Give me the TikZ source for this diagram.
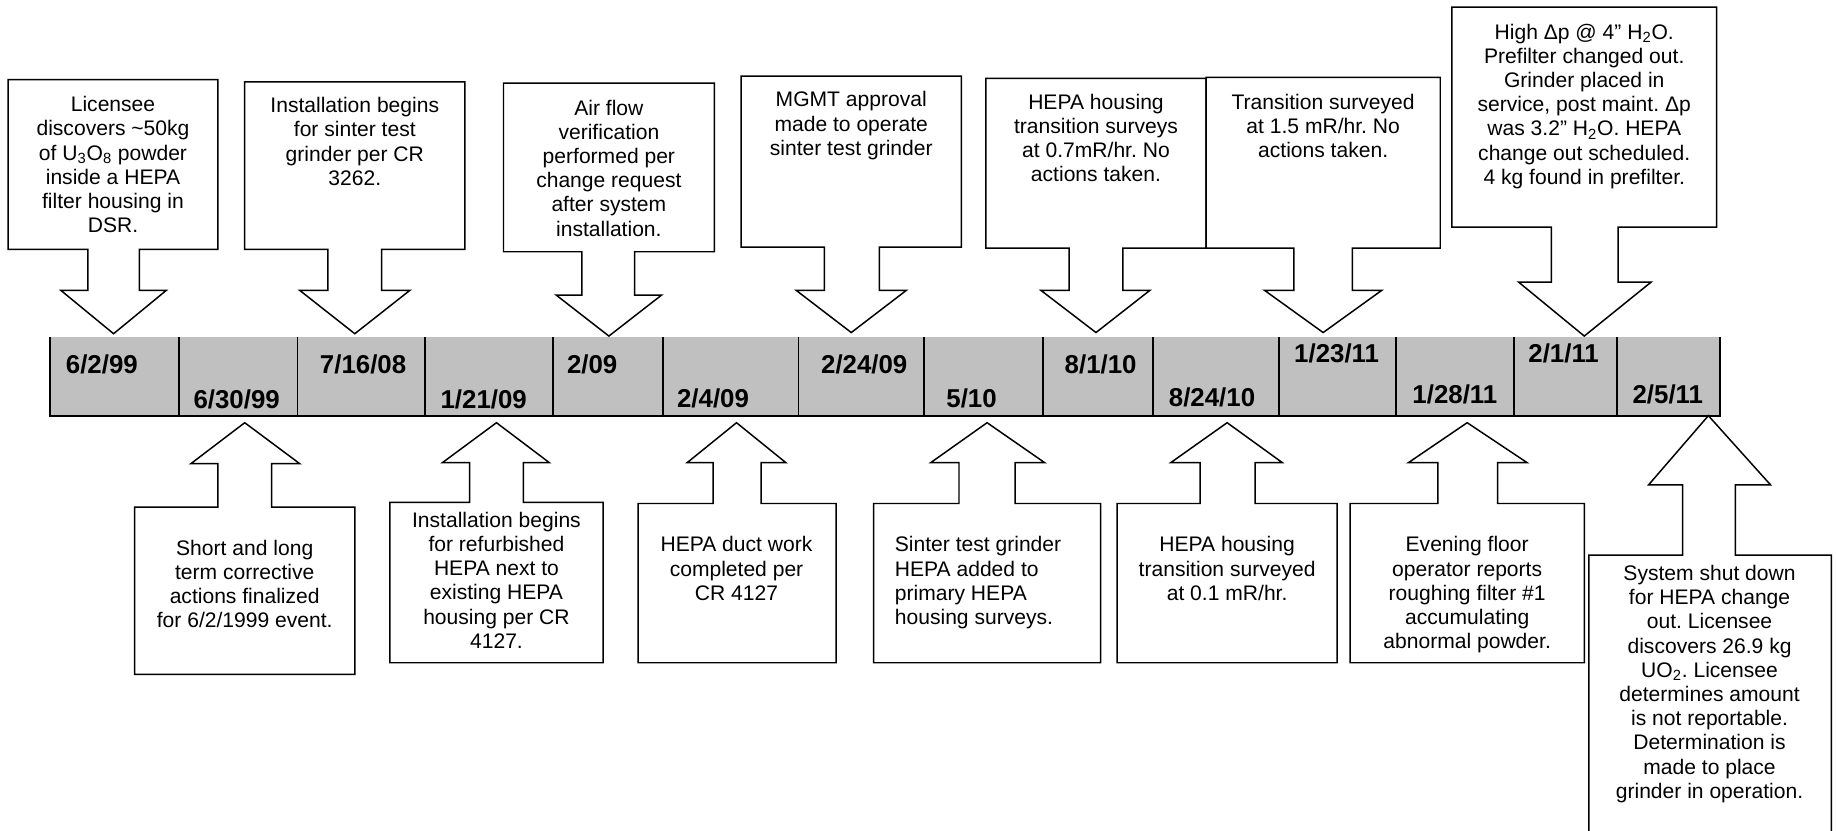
\documentclass[tikz,border=0pt]{standalone}
\usepackage{fontspec}
\setmainfont{Liberation Sans}
\usepackage{tikz}
\usepackage{xcolor}

\definecolor{barfill}{RGB}{192,192,192}
\frenchspacing

\begin{document}
\begin{tikzpicture}[x=0.25mm, y=-0.25mm,
    every node/.style={inner sep=0pt},
    note/.style={font=\fontsize{12.8}{14.7}\selectfont, align=center, anchor=north},
    datelbl/.style={font=\fontsize{15.7}{18}\selectfont\bfseries, anchor=base west},
    callout/.style={draw, fill=white, line width=0.9pt, line join=miter}]
    % page frame
    \clip (0,0) rectangle (1568,709);
    \fill[white] (0,0) rectangle (1568,709);

    % time line bar
    \fill[barfill] (43,288) rectangle (1469,355);
    \draw[line width=1.2pt] (43,288) -- (43,355) -- (1469,355) -- (1469,288);
    \foreach \x in {153,254,363,472,566,682,789,891,985,1092,1192,1293,1381}
        \draw[line width=1.1pt] (\x,288) -- (\x,355);

    % dates
    \node[datelbl] (d1) at (56,319) {6/2/99};
    \node[datelbl] (d2) at (165,348.5) {6/30/99};
    \node[datelbl] (d3) at (273,319) {7/16/08};
    \node[datelbl] (d4) at (376,348.5) {1/21/09};
    \node[datelbl] (d5) at (484,319) {2/09};
    \node[datelbl] (d6) at (578,348) {2/4/09};
    \node[datelbl] (d7) at (701,319) {2/24/09};
    \node[datelbl] (d8) at (808,348) {5/10};
    \node[datelbl] (d9) at (909,319) {8/1/10};
    \node[datelbl] (d10) at (998,347) {8/24/10};
    \node[datelbl] (d11) at (1105,310) {1/23/11};
    \node[datelbl] (d12) at (1206,345) {1/28/11};
    \node[datelbl] (d13) at (1305,310) {2/1/11};
    \node[datelbl] (d14) at (1394,345) {2/5/11};

    % callouts above the bar
    \draw[callout] (7,213) -- (7,68) -- (186,68) -- (186,213) -- (119,213) -- (119,248) -- (142,248) -- (97,285) -- (52,248) -- (75,248) -- (75,213) -- cycle;
    \draw[callout] (209,213) -- (209,70) -- (397,70) -- (397,213) -- (326,213) -- (326,248) -- (350,248) -- (303,285) -- (256,248) -- (280,248) -- (280,213) -- cycle;
    \draw[callout] (430,215) -- (430,71) -- (610,71) -- (610,215) -- (542,215) -- (542,252) -- (565,252) -- (520,287) -- (475,252) -- (497,252) -- (497,215) -- cycle;
    \draw[callout] (633,211) -- (633,65) -- (821,65) -- (821,211) -- (751,211) -- (751,248) -- (774,248) -- (727,284) -- (680,248) -- (704,248) -- (704,211) -- cycle;
    \draw[callout] (842,212) -- (842,67) -- (1030,67) -- (1030,212) -- (959,212) -- (959,248) -- (982,248) -- (936,284) -- (889,248) -- (913,248) -- (913,212) -- cycle;
    \draw[callout] (1030,212) -- (1030,66) -- (1230,66) -- (1230,212) -- (1155,212) -- (1155,248) -- (1180,248) -- (1130,284) -- (1080,248) -- (1105,248) -- (1105,212) -- cycle;
    \draw[callout] (1240,194) -- (1240,6) -- (1466,6) -- (1466,194) -- (1382,194) -- (1382,241) -- (1410,241) -- (1353,287) -- (1297,241) -- (1325,241) -- (1325,194) -- cycle;

    % callouts below the bar
    \draw[callout] (115,433) -- (115,576) -- (303,576) -- (303,433) -- (232,433) -- (232,396) -- (256,396) -- (209,361) -- (163,396) -- (186,396) -- (186,433) -- cycle;
    \draw[callout] (333,429) -- (333,566) -- (515,566) -- (515,429) -- (447,429) -- (447,395) -- (469,395) -- (424,361) -- (378,395) -- (401,395) -- (401,429) -- cycle;
    \draw[callout] (545,430) -- (545,566) -- (714,566) -- (714,430) -- (650,430) -- (650,395) -- (671,395) -- (629,361) -- (587,395) -- (609,395) -- (609,430) -- cycle;
    \draw[callout] (746,430) -- (746,566) -- (940,566) -- (940,430) -- (867,430) -- (867,395) -- (892,395) -- (843,361) -- (795,395) -- (819,395) -- (819,430) -- cycle;
    \draw[callout] (954,430) -- (954,566) -- (1142,566) -- (1142,430) -- (1072,430) -- (1072,395) -- (1095,395) -- (1048,361) -- (1000,395) -- (1025,395) -- (1025,430) -- cycle;
    \draw[callout] (1153,430) -- (1153,566) -- (1353,566) -- (1353,430) -- (1279,430) -- (1279,395) -- (1304,395) -- (1253,361) -- (1203,395) -- (1228,395) -- (1228,430) -- cycle;
    \draw[callout] (1357,474) -- (1357,720) -- (1564,720) -- (1564,474) -- (1482,474) -- (1482,414) -- (1512,414) -- (1459,355) -- (1408,414) -- (1437,414) -- (1437,474) -- cycle;

    % texts above
    \node[note] (t1) at (96.5,82) {Licensee\\discovers \textasciitilde50kg\\of U\textsubscript{3}O\textsubscript{8} powder\\inside a HEPA\\filter housing in\\DSR.};
    \node[note] (t2) at (303,83) {Installation begins\\for sinter test\\grinder per CR\\3262.};
    \node[note] (t3) at (520,85) {Air flow\\verification\\performed per\\change request\\after system\\installation.};
    \node[note] (t4) at (727,78) {MGMT approval\\made to operate\\sinter test grinder};
    \node[note] (t5) at (936,80) {HEPA housing\\transition surveys\\at 0.7mR/hr. No\\actions taken.};
    \node[note] (t6) at (1130,80) {Transition surveyed\\at 1.5 mR/hr. No\\actions taken.};
    \node[note] (t7) at (1353,20) {High Δp @ 4” H\textsubscript{2}O.\\Prefilter changed out.\\Grinder placed in\\service, post maint. Δp\\was 3.2” H\textsubscript{2}O. HEPA\\change out scheduled.\\4 kg found in prefilter.};

    % texts below
    \node[note] (b1) at (209,461) {Short and long\\term corrective\\actions finalized\\for 6/2/1999 event.};
    \node[note] (b2) at (424,437) {Installation begins\\for refurbished\\HEPA next to\\existing HEPA\\housing per CR\\4127.};
    \node[note] (b3) at (629,458) {HEPA duct work\\completed per\\CR 4127};
    \node[note, align=left, anchor=north west] (b4) at (764,458) {Sinter test grinder\\HEPA added to\\primary HEPA\\housing surveys.};
    \node[note] (b5) at (1048,458) {HEPA housing\\transition surveyed\\at 0.1 mR/hr.};
    \node[note] (b6) at (1253,458) {Evening floor\\operator reports\\roughing filter \#1\\accumulating\\abnormal powder.};
    \node[note] (b7) at (1460,482.5) {System shut down\\for HEPA change\\out. Licensee\\discovers 26.9 kg\\UO\textsubscript{2}. Licensee\\determines amount\\is not reportable.\\Determination is\\made to place\\grinder in operation.};
\end{tikzpicture}
\end{document}
